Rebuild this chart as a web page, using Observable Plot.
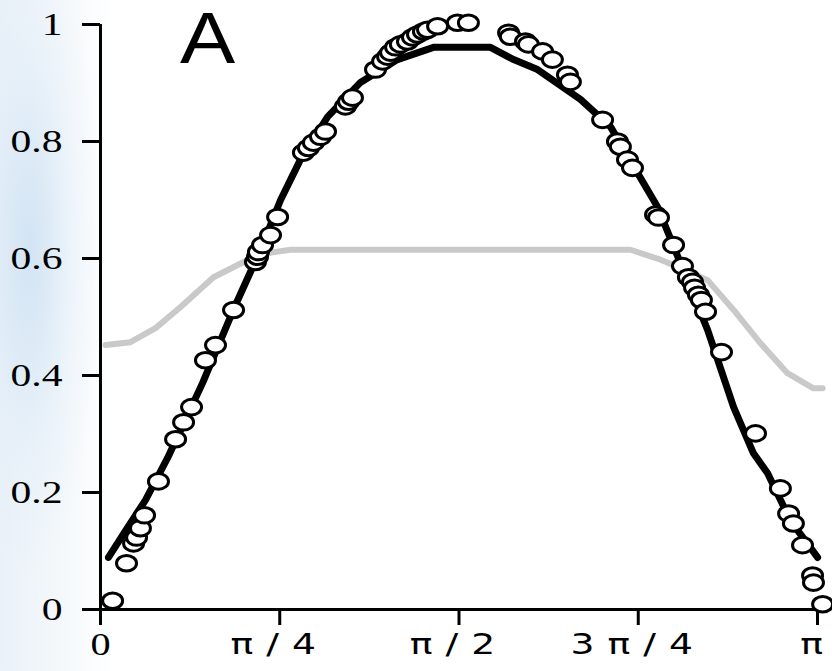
<!DOCTYPE html>
<html>
<head>
<meta charset="utf-8">
<script src="https://cdn.jsdelivr.net/npm/d3@7"></script>
<script src="https://cdn.jsdelivr.net/npm/@observablehq/plot@0.6"></script>
<style>
  html, body { margin: 0; padding: 0; }
  body {
    width: 832px; height: 671px; overflow: hidden;
    background:
      radial-gradient(ellipse 70px 330px at 30px 250px, rgba(200,222,242,0.75), rgba(220,235,248,0.35) 60%, rgba(255,255,255,0) 100%),
      linear-gradient(to right, #eaf1f8 0px, #f4f8fb 60px, #ffffff 115px);
  }
</style>
</head>
<body>
<div id="chart"></div>
<script>
// Circles (measured data), x in radians
const circleX = [0.053,0.114,0.145,0.158,0.175,0.193,0.254,0.329,0.364,0.399,0.460,0.504,0.583,0.679,0.688,0.692,0.710,0.745,0.776,0.889,0.911,0.933,0.964,0.986,1.073,1.087,1.104,1.205,1.236,1.258,1.271,1.293,1.314,1.345,1.367,1.389,1.415,1.433,1.477,1.564,1.612,1.788,1.796,1.862,1.875,1.937,1.980,2.046,2.059,2.200,2.265,2.278,2.309,2.331,2.432,2.445,2.511,2.550,2.576,2.594,2.603,2.620,2.633,2.651,2.721,2.870,2.979,3.015,3.036,3.076,3.120,3.124,3.164];
const circleY = [0.015,0.079,0.113,0.123,0.139,0.161,0.219,0.291,0.320,0.346,0.426,0.452,0.512,0.594,0.603,0.611,0.623,0.640,0.671,0.781,0.789,0.798,0.808,0.817,0.860,0.868,0.875,0.923,0.937,0.945,0.952,0.961,0.966,0.971,0.978,0.983,0.988,0.991,0.997,1.003,1.003,0.986,0.979,0.971,0.966,0.954,0.940,0.914,0.902,0.837,0.800,0.791,0.769,0.755,0.675,0.670,0.623,0.587,0.568,0.560,0.550,0.538,0.529,0.509,0.440,0.301,0.207,0.164,0.147,0.110,0.058,0.046,0.009];

// Black thick curve
const blackX = [0.035,0.110,0.197,0.294,0.447,0.592,0.701,0.789,0.876,0.995,1.139,1.301,1.459,1.709,1.810,1.915,2.103,2.235,2.379,2.441,2.660,2.774,2.861,2.923,3.023,3.142];
const blackY = [0.089,0.135,0.187,0.259,0.387,0.521,0.615,0.700,0.769,0.842,0.901,0.940,0.961,0.961,0.940,0.923,0.872,0.825,0.729,0.688,0.478,0.346,0.267,0.233,0.152,0.089];

// Gray curve
const grayX = [0.022,0.131,0.241,0.351,0.495,0.627,0.745,0.833,2.322,2.454,2.563,2.660,2.774,2.892,3.010,3.124,3.164];
const grayY = [0.452,0.457,0.481,0.517,0.568,0.594,0.610,0.615,0.615,0.598,0.580,0.563,0.512,0.455,0.404,0.378,0.378];

// Ticks
const yTicks = [0, 0.2, 0.4, 0.6, 0.8, 1];
const yTickLabels = ["0", "0.2", "0.4", "0.6", "0.8", "1"];
const xTicks = [0, Math.PI/4, Math.PI/2, 3*Math.PI/4, Math.PI];
const xTickLabels = ["0", "π/4", "π/2", "3π/4", "π"];
const panelLabel = "A";

const circles = circleX.map((x, i) => ({x, y: circleY[i]}));
const black = blackX.map((x, i) => ({x, y: blackY[i]}));
const gray = grayX.map((x, i) => ({x, y: grayY[i]}));

const ellipse = {
  draw(context, size) {
    const r = Math.sqrt(size / Math.PI);
    const rx = r * 1.0, ry = r * 0.78, k = 0.5523;
    context.moveTo(rx, 0);
    context.bezierCurveTo(rx, ry * k, rx * k, ry, 0, ry);
    context.bezierCurveTo(-rx * k, ry, -rx, ry * k, -rx, 0);
    context.bezierCurveTo(-rx, -ry * k, -rx * k, -ry, 0, -ry);
    context.bezierCurveTo(rx * k, -ry, rx, -ry * k, rx, 0);
    context.closePath();
  }
};

const serif = "Liberation Serif, Times New Roman, serif";
const sans = "DejaVu Sans, sans-serif";

const chart = Plot.plot({
  width: 832,
  height: 671,
  marginLeft: 100,
  marginRight: 15,
  marginTop: 24,
  marginBottom: 62,
  style: { background: "transparent", overflow: "visible" },
  x: { domain: [0, Math.PI] },
  y: { domain: [0, 1] },
  marks: [
    Plot.line(gray, { x: "x", y: "y", stroke: "#c9c9c9", strokeWidth: 6 }),
    Plot.line(black, { x: "x", y: "y", stroke: "#000", strokeWidth: 7 }),
    Plot.ruleY([0], { stroke: "#000", strokeWidth: 3 }),
    Plot.ruleX([0], { stroke: "#000", strokeWidth: 3 }),
    Plot.axisY({ ticks: yTicks, tickSize: 18, strokeWidth: 3, tickFormat: () => "", label: null, color: "#000" }),
    Plot.axisX({ ticks: xTicks, tickSize: 16, strokeWidth: 3, tickFormat: () => "", label: null, color: "#000" }),
    Plot.text(yTicks, { y: d => d, text: (d, i) => yTickLabels[i], frameAnchor: "left", dx: -38,
      textAnchor: "end", fontSize: 32, fontFamily: serif, fill: "#000" }),
    Plot.text([xTicks[0]], { x: d => d, text: () => xTickLabels[0], frameAnchor: "bottom", dy: 45,
      fontSize: 31, fontFamily: serif, fill: "#000" }),
    Plot.text(xTicks.slice(1, 4), { x: d => d, text: (d, i) => xTickLabels[i + 1], frameAnchor: "bottom", dy: 44,
      fontSize: 29, fontFamily: sans, fill: "#000" }),
    Plot.text([xTicks[4]], { x: d => d, text: () => xTickLabels[4], frameAnchor: "bottom", dy: 44, dx: -6,
      fontSize: 29, fontFamily: sans, fill: "#000" }),
    Plot.text([panelLabel], { frameAnchor: "top-left", textAnchor: "middle", lineAnchor: "middle",
      dx: 107, dy: 15, fontSize: 72, fontFamily: "Liberation Sans, Arial, sans-serif", fill: "#000" }),
    Plot.dot(circles, { x: "x", y: "y", r: 10, symbol: ellipse, fill: "#fff", stroke: "#000", strokeWidth: 3 })
  ]
});
// The reference is horizontally stretched: widen every text about its anchor.
d3.select(chart).selectAll("text").each(function () {
  const t = d3.select(this);
  const content = t.text();
  const sx = content === panelLabel ? 1.15 : 1.3;
  t.attr("transform", (t.attr("transform") || "") + ` scale(${sx},1)`);
  if (content.includes("π") && content.length > 1) t.style("letter-spacing", "10px");
});
document.getElementById("chart").appendChild(chart);
</script>
</body>
</html>
